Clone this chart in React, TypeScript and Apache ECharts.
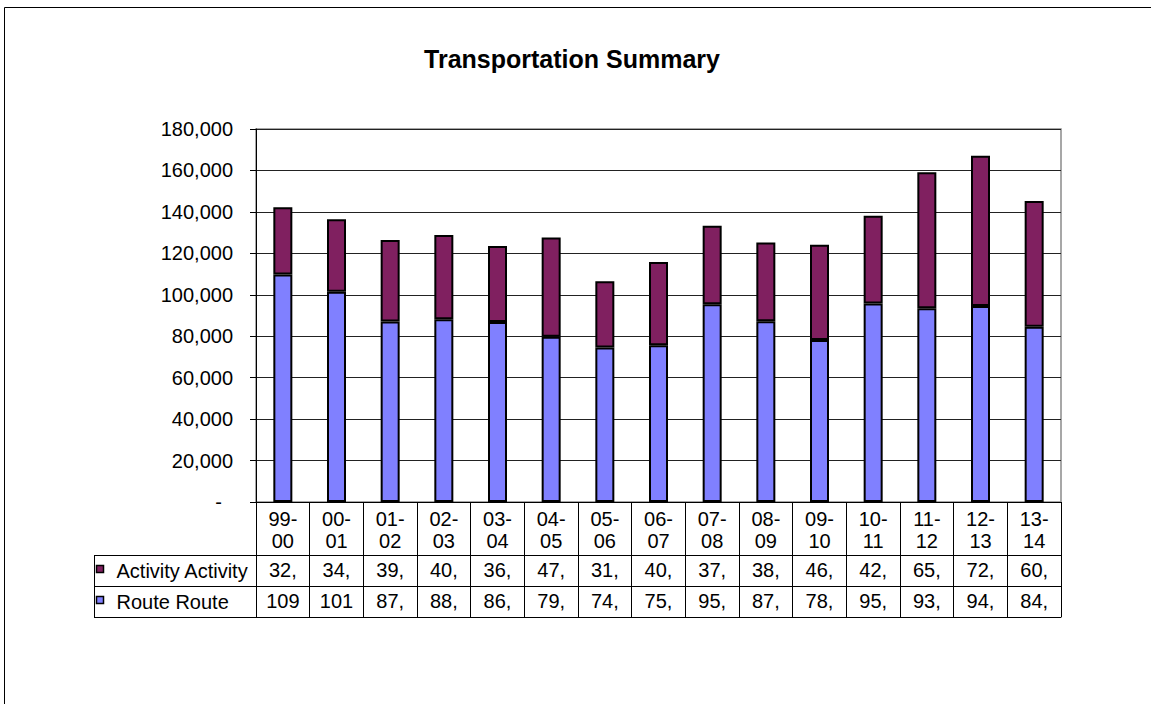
import React, { useEffect, useRef } from 'react';
import * as echarts from 'echarts';

const chartTitle = 'Transportation Summary';
const categories = ['99-00', '00-01', '01-02', '02-03', '03-04', '04-05', '05-06', '06-07', '07-08', '08-09', '09-10', '10-11', '11-12', '12-13', '13-14'];
const routeName = 'Route Route';
const activityName = 'Activity Activity';
const routeValues = [109800, 101500, 87100, 88200, 86900, 79800, 74600, 75600, 95400, 87200, 78200, 95800, 93500, 94600, 84600];
const activityValues = [32400, 34900, 39300, 40700, 36600, 47800, 31900, 40200, 37900, 38000, 46000, 42300, 65600, 72500, 60700];
const yMin = 0;
const yMax = 180000;
const yInterval = 20000;

const FONT = "'Liberation Sans', Arial, sans-serif";
const ROUTE_COLOR = '#8080FF';
const ACTIVITY_COLOR = '#802060';

const cellText = (v: number) => v.toLocaleString('en-US').slice(0, 3);
const catLabel = (c: string) => c.replace('-', '-\n');

export default function App() {
  const ref = useRef<HTMLDivElement>(null);
  useEffect(() => {
    document.body.style.margin = '0';
    const chart = echarts.init(ref.current!, null, { renderer: 'svg' });
    const gridLeft = 256;
    const gridRight = 1061;
    const gridTop = 129;
    const gridBottom = 502;
    const tableLeft = 94;
    const tableBottom = 617;
    const rows = [
      { name: activityName, color: ACTIVITY_COLOR, values: activityValues, top: 555 },
      { name: routeName, color: ROUTE_COLOR, values: routeValues, top: 586 },
    ];
    const textStyle = { fontSize: 20, color: '#000', fontFamily: FONT };
    const line = (x1: number, y1: number, x2: number, y2: number) => ({
      type: 'line',
      silent: true,
      shape: { x1, y1, x2, y2 },
      style: { stroke: '#000', lineWidth: 1 },
    });
    const graphic: any[] = [
      {
        type: 'rect',
        silent: true,
        shape: { x: 4.5, y: 7.5, width: 1400, height: 1000 },
        style: { fill: 'none', stroke: '#000', lineWidth: 1 },
      },
      {
        type: 'text',
        silent: true,
        x: 572,
        y: 59,
        style: {
          text: chartTitle,
          fontSize: 25,
          fontWeight: 'bold',
          fontFamily: FONT,
          fill: '#000',
          textAlign: 'center',
          textVerticalAlign: 'middle',
        },
      },
      line(tableLeft + 0.5, rows[0].top + 0.5, tableLeft + 0.5, tableBottom + 0.5),
      line(tableLeft, tableBottom + 0.5, gridLeft, tableBottom + 0.5),
    ];
    rows.forEach((r) => {
      graphic.push(line(tableLeft, r.top + 0.5, gridLeft, r.top + 0.5));
      graphic.push({
        type: 'rect',
        silent: true,
        shape: { x: 96.5, y: r.top + 10.5, width: 7, height: 7 },
        style: { fill: r.color, stroke: '#000', lineWidth: 1.5 },
      });
      graphic.push({
        type: 'text',
        silent: true,
        x: 116.5,
        y: r.top + 15.5,
        style: {
          text: r.name,
          fontSize: 20,
          fontFamily: FONT,
          fill: '#000',
          textAlign: 'left',
          textVerticalAlign: 'middle',
        },
      });
    });

    const option: any = {
      animation: false,
      backgroundColor: '#fff',
      grid: {
        left: gridLeft,
        top: gridTop,
        width: gridRight - gridLeft,
        height: gridBottom - gridTop,
        show: true,
        borderColor: '#8a8a8a',
        borderWidth: 1.5,
        backgroundColor: 'transparent',
      },
      xAxis: [
        {
          type: 'category',
          data: categories,
          position: 'bottom',
          boundaryGap: true,
          axisLine: { lineStyle: { color: '#000', width: 1 } },
          axisTick: { show: true, interval: 0, length: tableBottom - gridBottom, lineStyle: { color: '#000', width: 1 } },
          axisLabel: { interval: 0, formatter: catLabel, lineHeight: 22, margin: 6, ...textStyle },
          splitLine: { show: false },
        },
        ...rows.map((r) => ({
          type: 'category',
          data: categories,
          position: 'bottom',
          offset: r.top - gridBottom,
          axisLine: { lineStyle: { color: '#000', width: 1 } },
          axisTick: { show: false },
          axisLabel: {
            interval: 0,
            lineHeight: 22,
            margin: 4,
            formatter: (_v: string, i: number) => cellText(r.values[i]),
            ...textStyle,
          },
          splitLine: { show: false },
        })),
        {
          type: 'category',
          data: categories,
          position: 'bottom',
          offset: tableBottom - gridBottom,
          axisLine: { lineStyle: { color: '#000', width: 1 } },
          axisTick: { show: false },
          axisLabel: { show: false },
          splitLine: { show: false },
        },
      ],
      yAxis: {
        type: 'value',
        min: yMin,
        max: yMax,
        interval: yInterval,
        axisLine: { show: true, lineStyle: { color: '#000', width: 1 } },
        axisTick: { show: true, length: 6, lineStyle: { color: '#000', width: 1 } },
        axisLabel: {
          margin: 23,
          ...textStyle,
          formatter: (v: number) => (v === 0 ? '{z|-}' : v.toLocaleString('en-US')),
          rich: { z: { padding: [0, 11, 0, 0], ...textStyle } },
        },
        splitLine: { show: true, lineStyle: { color: '#222', width: 1 } },
      },
      series: [
        {
          name: routeName,
          type: 'bar',
          stack: 'total',
          xAxisIndex: 0,
          data: routeValues,
          barWidth: 19,
          itemStyle: { color: ROUTE_COLOR, borderColor: '#000', borderWidth: 2 },
        },
        {
          name: activityName,
          type: 'bar',
          stack: 'total',
          xAxisIndex: 0,
          data: activityValues,
          barWidth: 19,
          itemStyle: { color: ACTIVITY_COLOR, borderColor: '#000', borderWidth: 2 },
        },
      ],
      graphic,
    };
    chart.setOption(option);
    return () => chart.dispose();
  }, []);
  return <div ref={ref} style={{ width: 1151, height: 704, overflow: 'hidden' }} />;
}
